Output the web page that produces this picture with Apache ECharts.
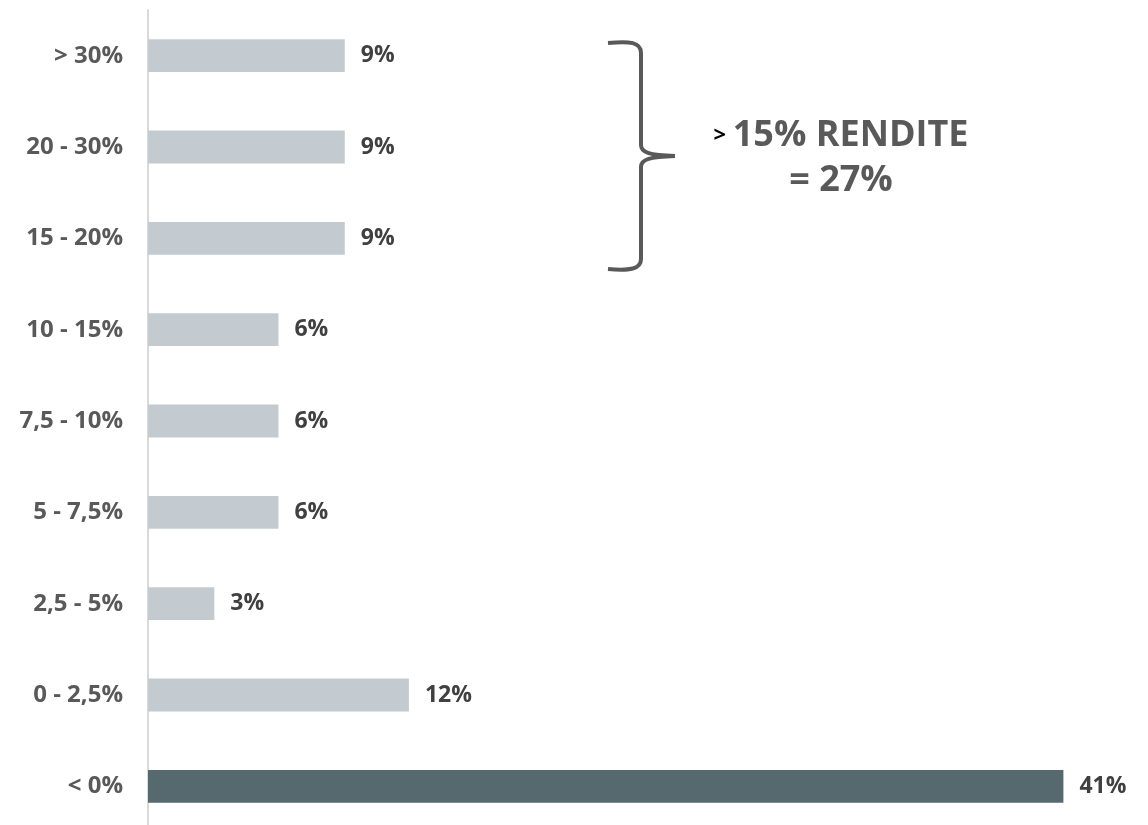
<!DOCTYPE html>
<html>
<head>
<meta charset="utf-8">
<script src="https://cdn.jsdelivr.net/npm/echarts@6/dist/echarts.min.js"></script>
<style>
  html, body { margin: 0; padding: 0; background: #fff; }
  #main { width: 1148px; height: 825px; }
</style>
</head>
<body>
<div id="main"></div>
<script>
// Kategorien von unten nach oben
var categories = ['< 0%', '0 - 2,5%', '2,5 - 5%', '5 - 7,5%', '7,5 - 10%', '10 - 15%', '15 - 20%', '20 - 30%', '> 30%'];
var values = [41.4, 11.8, 3.0, 5.9, 5.9, 5.9, 8.9, 8.9, 8.9];
var highlight = '< 0%';
var bracketLine1 = '15% RENDITE';
var bracketLine2 = '= 27%';

var FONT = '"Open Sans", "Noto Sans", sans-serif';

var myChart = echarts.init(document.getElementById('main'));

var barData = [];
for (var i = 0; i < values.length; i++) {
    barData.push({
        value: values[i],
        itemStyle: { color: categories[i] == highlight ? '#56696f' : '#c3cbd1' }
    });
}

var braceStyle = { stroke: '#595959', lineWidth: 4, fill: null };
function curve(x1, y1, c1x, c1y, c2x, c2y, x2, y2) {
    return { type: 'bezierCurve', shape: { x1: x1, y1: y1, cpx1: c1x, cpy1: c1y, cpx2: c2x, cpy2: c2y, x2: x2, y2: y2 }, style: braceStyle };
}
function seg(x1, y1, x2, y2) {
    return { type: 'line', shape: { x1: x1, y1: y1, x2: x2, y2: y2 }, style: braceStyle };
}

var option = {
    backgroundColor: '#fff',
    animation: false,
    grid: {
        left: 148,
        right: 5,
        top: 10,
        height: 822,
        outerBoundsMode: 'none'
    },
    xAxis: {
        type: 'value',
        min: 0,
        max: 45,
        show: false
    },
    yAxis: {
        type: 'category',
        data: categories,
        axisLine: { show: true, lineStyle: { color: '#d9d9d9', width: 2 } },
        axisTick: { show: false },
        axisLabel: {
            margin: 25,
            color: '#595959',
            fontWeight: 'bold',
            fontSize: 24,
            fontFamily: FONT
        }
    },
    series: [{
        type: 'bar',
        data: barData,
        barWidth: '36%',
        label: {
            show: true,
            position: 'right',
            distance: 16,
            color: '#404040',
            fontWeight: 'bold',
            fontSize: 23,
            fontFamily: FONT,
            formatter: function (p) { return Math.round(p.value) + '%'; }
        }
    }],
    graphic: [
        // geschweifte Klammer
        curve(608, 43, 630, 41, 641, 42, 641, 53),
        seg(641, 53, 641, 145),
        curve(641, 145, 641, 153, 650, 155, 675, 156),
        curve(675, 156, 650, 157, 641, 159, 641, 167),
        seg(641, 167, 641, 259),
        curve(641, 259, 641, 269, 630, 271, 608, 269),
        {
            type: 'text',
            x: 841,
            y: 158,
            style: {
                text: '{a|>}  {b|' + bracketLine1 + '}\n{b|' + bracketLine2 + '}',
                align: 'center',
                verticalAlign: 'middle',
                rich: {
                    a: { fontSize: 22, fontWeight: 'bold', fill: '#000', fontFamily: FONT, lineHeight: 45 },
                    b: { fontSize: 36, fontWeight: 'bold', fill: '#595959', fontFamily: FONT, lineHeight: 45 }
                }
            }
        }
    ]
};

myChart.setOption(option);
</script>
</body>
</html>
